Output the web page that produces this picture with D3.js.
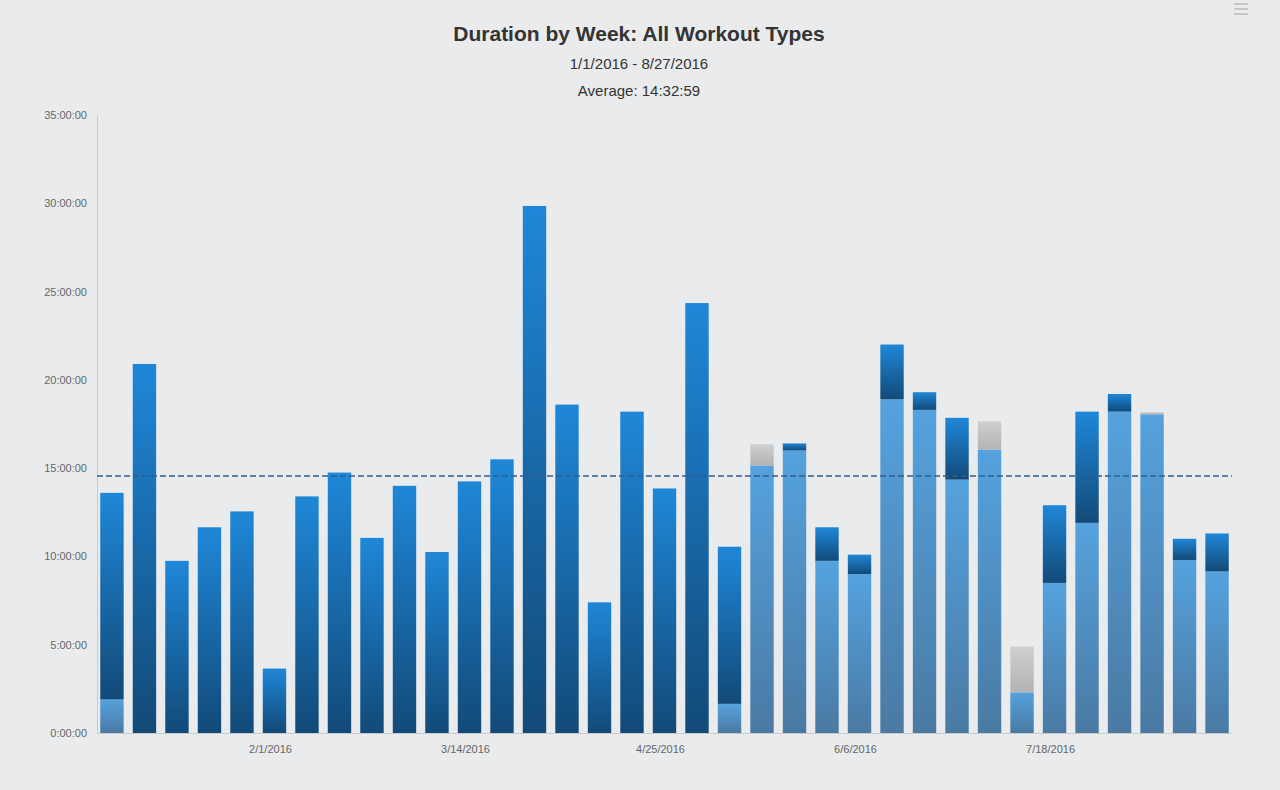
<!DOCTYPE html>
<html><head><meta charset="utf-8">
<script src="https://cdn.jsdelivr.net/npm/d3@7"></script>
<style>body{margin:0;background:#e9ebed;font-family:"Helvetica Neue",Arial,"Liberation Sans",sans-serif}</style>
</head><body>
<svg id="c" width="1280" height="790"></svg>
<script>
const weeks = d3.range(35).map(i => { const d = new Date(2015, 11, 28 + 7*i); return (d.getMonth()+1)+"/"+d.getDate()+"/"+d.getFullYear(); });
// hours per week per series
const lightSeries = [1.9,0,0,0,0,0,0,0,0,0,0,0,0,0,0,0,0,0,0,1.65,15.15,16.0,9.75,9.0,18.9,18.3,14.35,16.05,2.3,8.5,11.9,18.2,18.05,9.8,9.15];
const darkSeries  = [11.7,20.9,9.75,11.65,12.55,3.65,13.4,14.75,11.05,14.0,10.25,14.25,15.5,29.85,18.6,7.4,18.2,13.85,24.35,8.9,0,0.4,1.9,1.1,3.1,1.0,3.5,0,0,4.4,6.3,1.0,0,1.2,2.15];
const graySeries  = [0,0,0,0,0,0,0,0,0,0,0,0,0,0,0,0,0,0,0,0,1.2,0,0,0,0,0,0,1.6,2.6,0,0,0,0.12,0,0];
const average = 14.55;
const yTicks = [0,5,10,15,20,25,30,35];
const xTickLabels = ["2/1/2016","3/14/2016","4/25/2016","6/6/2016","7/18/2016"];

const svg = d3.select("#c");
const defs = svg.append("defs");
function grad(id, top, bot){ const g=defs.append("linearGradient").attr("id",id).attr("x1",0).attr("y1",0).attr("x2",0).attr("y2",1);
  g.append("stop").attr("offset","0%").attr("stop-color",top); g.append("stop").attr("offset","100%").attr("stop-color",bot); }
grad("gL","#55a2de","#4a7aa3"); grad("gD","#1f87d8","#124a78"); grad("gG","#cfcfcf","#b3b3b3");

const x = d3.scaleBand().domain(weeks).range([97,1232]).paddingInner(0.28).paddingOuter(0.1);
const y = d3.scaleLinear().domain([0,35]).range([733,115]);

const data = weeks.map((w,i)=>({w, light:lightSeries[i], dark:darkSeries[i], gray:graySeries[i]}));
const stack = d3.stack().keys(["light","dark","gray"])(data);
const fills = {light:"url(#gL)", dark:"url(#gD)", gray:"url(#gG)"};
svg.append("g").selectAll("g").data(stack).join("g").attr("fill",d=>fills[d.key])
  .selectAll("rect").data(d=>d.filter(s=>s[1]-s[0]>0)).join("rect")
  .attr("x",d=>x(d.data.w)).attr("width",x.bandwidth())
  .attr("y",d=>y(d[1])).attr("height",d=>y(d[0])-y(d[1]));

const fmt = h => h+":00:00";
const ya = svg.append("g").attr("transform","translate(97,0)").call(d3.axisLeft(y).tickValues(yTicks).tickFormat(d=>d===0?"0:00:00":fmt(d)).tickSize(0).tickPadding(10));
ya.select(".domain").attr("stroke","#c8cacc");
ya.selectAll("text").attr("fill","#666").style("font-size","11px");
const xa = svg.append("g").attr("transform","translate(0,733)").call(d3.axisBottom(x).tickValues(xTickLabels.map(l=>weeks[weeks.indexOf(l)])).tickSize(0).tickPadding(12));
xa.select(".domain").attr("stroke","#c8cacc");
xa.selectAll("text").attr("fill","#666").style("font-size","11px").attr("dx",-4);

svg.append("line").attr("x1",97).attr("x2",1232).attr("y1",y(average)).attr("y2",y(average))
  .attr("stroke","#2f5f8f").attr("stroke-width",1.5).attr("stroke-dasharray","6,3");

svg.append("text").attr("x",639).attr("y",41).attr("text-anchor","middle").attr("fill","#333").style("font-size","21px").style("font-weight","bold").text("Duration by Week: All Workout Types");
svg.append("text").attr("x",639).attr("y",69).attr("text-anchor","middle").attr("fill","#333").style("font-size","15px").text("1/1/2016 - 8/27/2016");
svg.append("text").attr("x",639).attr("y",96).attr("text-anchor","middle").attr("fill","#333").style("font-size","15px").text("Average: 14:32:59");
const m = svg.append("g").attr("stroke","#c4c6c8").attr("stroke-width",2);
[4,9,14].forEach(v=>m.append("line").attr("x1",1234).attr("x2",1248).attr("y1",v).attr("y2",v));
</script></body></html>
